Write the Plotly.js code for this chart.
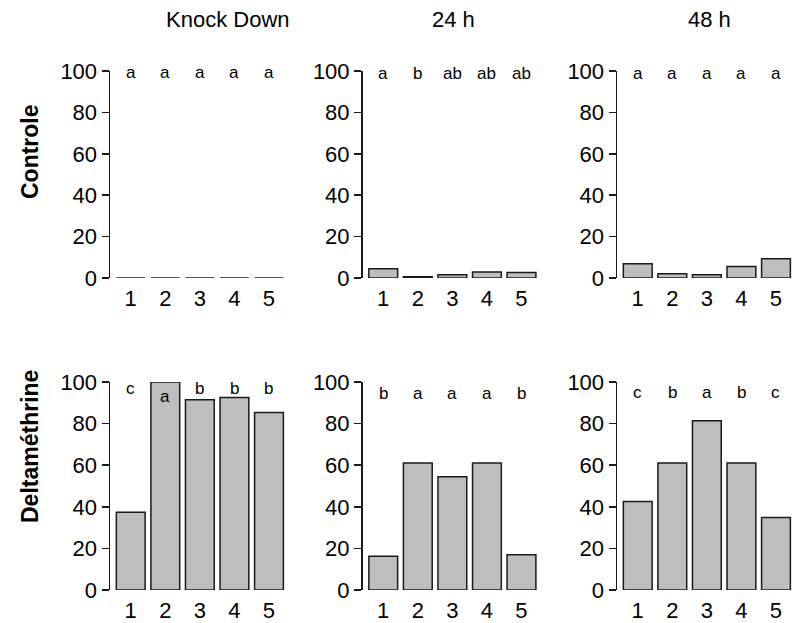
<!DOCTYPE html>
<html>
<head>
<meta charset="utf-8">
<script src="https://cdn.plot.ly/plotly-3.0.1.min.js"></script>
<style>html,body{margin:0;padding:0;background:#fff;}#chart{width:795px;height:623px;}</style>
</head>
<body>
<div id="chart"></div>
<script>
// ---- data ----
const categories = ['1', '2', '3', '4', '5'];
const columnTitles = ['Knock Down', '24 h', '48 h'];
const rowTitles = ['Controle', 'Deltaméthrine'];
const yTicks = [0, 20, 40, 60, 80, 100];

const controleKD  = [0, 0, 0, 0, 0];
const controle24  = [4.5, 0.6, 1.6, 2.9, 2.6];
const controle48  = [6.9, 2.1, 1.6, 5.5, 9.3];
const deltaKD     = [37.4, 100, 91.5, 92.5, 85.3];
const delta24     = [16.2, 61, 54.4, 61.1, 17];
const delta48     = [42.6, 61, 81.4, 61.1, 34.9];

const lettersControleKD = ['a', 'a', 'a', 'a', 'a'];
const lettersControle24 = ['a', 'b', 'ab', 'ab', 'ab'];
const lettersControle48 = ['a', 'a', 'a', 'a', 'a'];
const lettersDeltaKD    = ['c', 'a', 'b', 'b', 'b'];
const lettersDelta24    = ['b', 'a', 'a', 'a', 'b'];
const lettersDelta48    = ['c', 'b', 'a', 'b', 'c'];

// ---- layout helpers ----
const W = 795, H = 623;
const FONT = 'Liberation Sans, Arial, sans-serif';
const pxPerCat = 34.56;
const colLeft = [110, 362.5, 617];
const colWidth = [180, 180, 178];
const rowY = [[278, 71], [590, 382]]; // pixel of y=0, y=100
const letterY = [
  [[99.5,99.5,99.5,99.5,99.5],[99,99,99,99,99],[99,99,99,99,99]],
  [[97,93,97,97,97],[94.5,94.5,94.5,94.5,94.5],[95,95,95,95,95]]
];

const panels = [
  [controleKD, controle24, controle48],
  [deltaKD, delta24, delta48]
];
const letters = [
  [lettersControleKD, lettersControle24, lettersControle48],
  [lettersDeltaKD, lettersDelta24, lettersDelta48]
];

const traces = [];
const layout = {
  width: W, height: H,
  margin: {l: 0, r: 0, t: 0, b: 0},
  paper_bgcolor: '#fff', plot_bgcolor: 'rgba(0,0,0,0)',
  showlegend: false,
  bargap: 0.2 / 1.2,
  font: {family: FONT, color: '#000'},
  annotations: []
};

let n = 0;
for (let r = 0; r < 2; r++) {
  for (let c = 0; c < 3; c++) {
    n++;
    const xa = 'x' + (n === 1 ? '' : n), ya = 'y' + (n === 1 ? '' : n);
    const xKey = 'xaxis' + (n === 1 ? '' : n), yKey = 'yaxis' + (n === 1 ? '' : n);
    traces.push({
      type: 'bar', x: categories, y: panels[r][c],
      xaxis: xa, yaxis: ya, cliponaxis: false,
      marker: {color: '#BEBEBE', line: {color: '#1a1a1a', width: 1.5}},
      hoverinfo: 'skip'
    });
    const r0 = -0.6;
    layout[xKey] = {
      domain: [colLeft[c] / W, (colLeft[c] + colWidth[c]) / W],
      range: [r0, r0 + colWidth[c] / pxPerCat],
      type: 'category', anchor: ya,
      showgrid: false, zeroline: false, showline: false,
      ticks: 'outside', ticklen: 1, tickcolor: 'rgba(0,0,0,0)',
      tickfont: {size: 22, family: FONT, color: '#000'},
      fixedrange: true
    };
    layout[yKey] = {
      domain: [(H - rowY[r][0]) / H, (H - rowY[r][1]) / H],
      range: [0, 100], anchor: xa,
      tickvals: yTicks, ticktext: yTicks.map(String),
      showgrid: false, zeroline: false,
      showline: true, linecolor: '#1a1a1a', linewidth: 1.5,
      ticks: 'outside', ticklen: 7, tickwidth: 1.5, tickcolor: '#1a1a1a',
      tickfont: {size: 22, family: FONT, color: '#000'},
      fixedrange: true
    };
    letters[r][c].forEach((t, i) => {
      layout.annotations.push({
        x: i, y: letterY[r][c][i], xref: xa, yref: ya,
        text: t, showarrow: false, xanchor: 'center', yanchor: 'middle',
        font: {size: 17, family: FONT, color: '#000'}
      });
    });
  }
}

const colTitleX = [228, 453, 709];
columnTitles.forEach((t, i) => {
  layout.annotations.push({
    x: colTitleX[i] / W, y: (H - 20) / H, xref: 'paper', yref: 'paper',
    text: t, showarrow: false, xanchor: 'center', yanchor: 'middle',
    font: {size: 22, family: FONT, color: '#000'}
  });
});
const rowTitleY = [152, 447];
rowTitles.forEach((t, i) => {
  layout.annotations.push({
    x: 30 / W, y: (H - rowTitleY[i]) / H, xref: 'paper', yref: 'paper',
    text: '<b>' + t + '</b>', showarrow: false, textangle: -90,
    xanchor: 'center', yanchor: 'middle',
    font: {size: 23, family: FONT, color: '#000'}
  });
});

Plotly.newPlot('chart', traces, layout, {displayModeBar: false, staticPlot: true});
</script>
</body>
</html>
